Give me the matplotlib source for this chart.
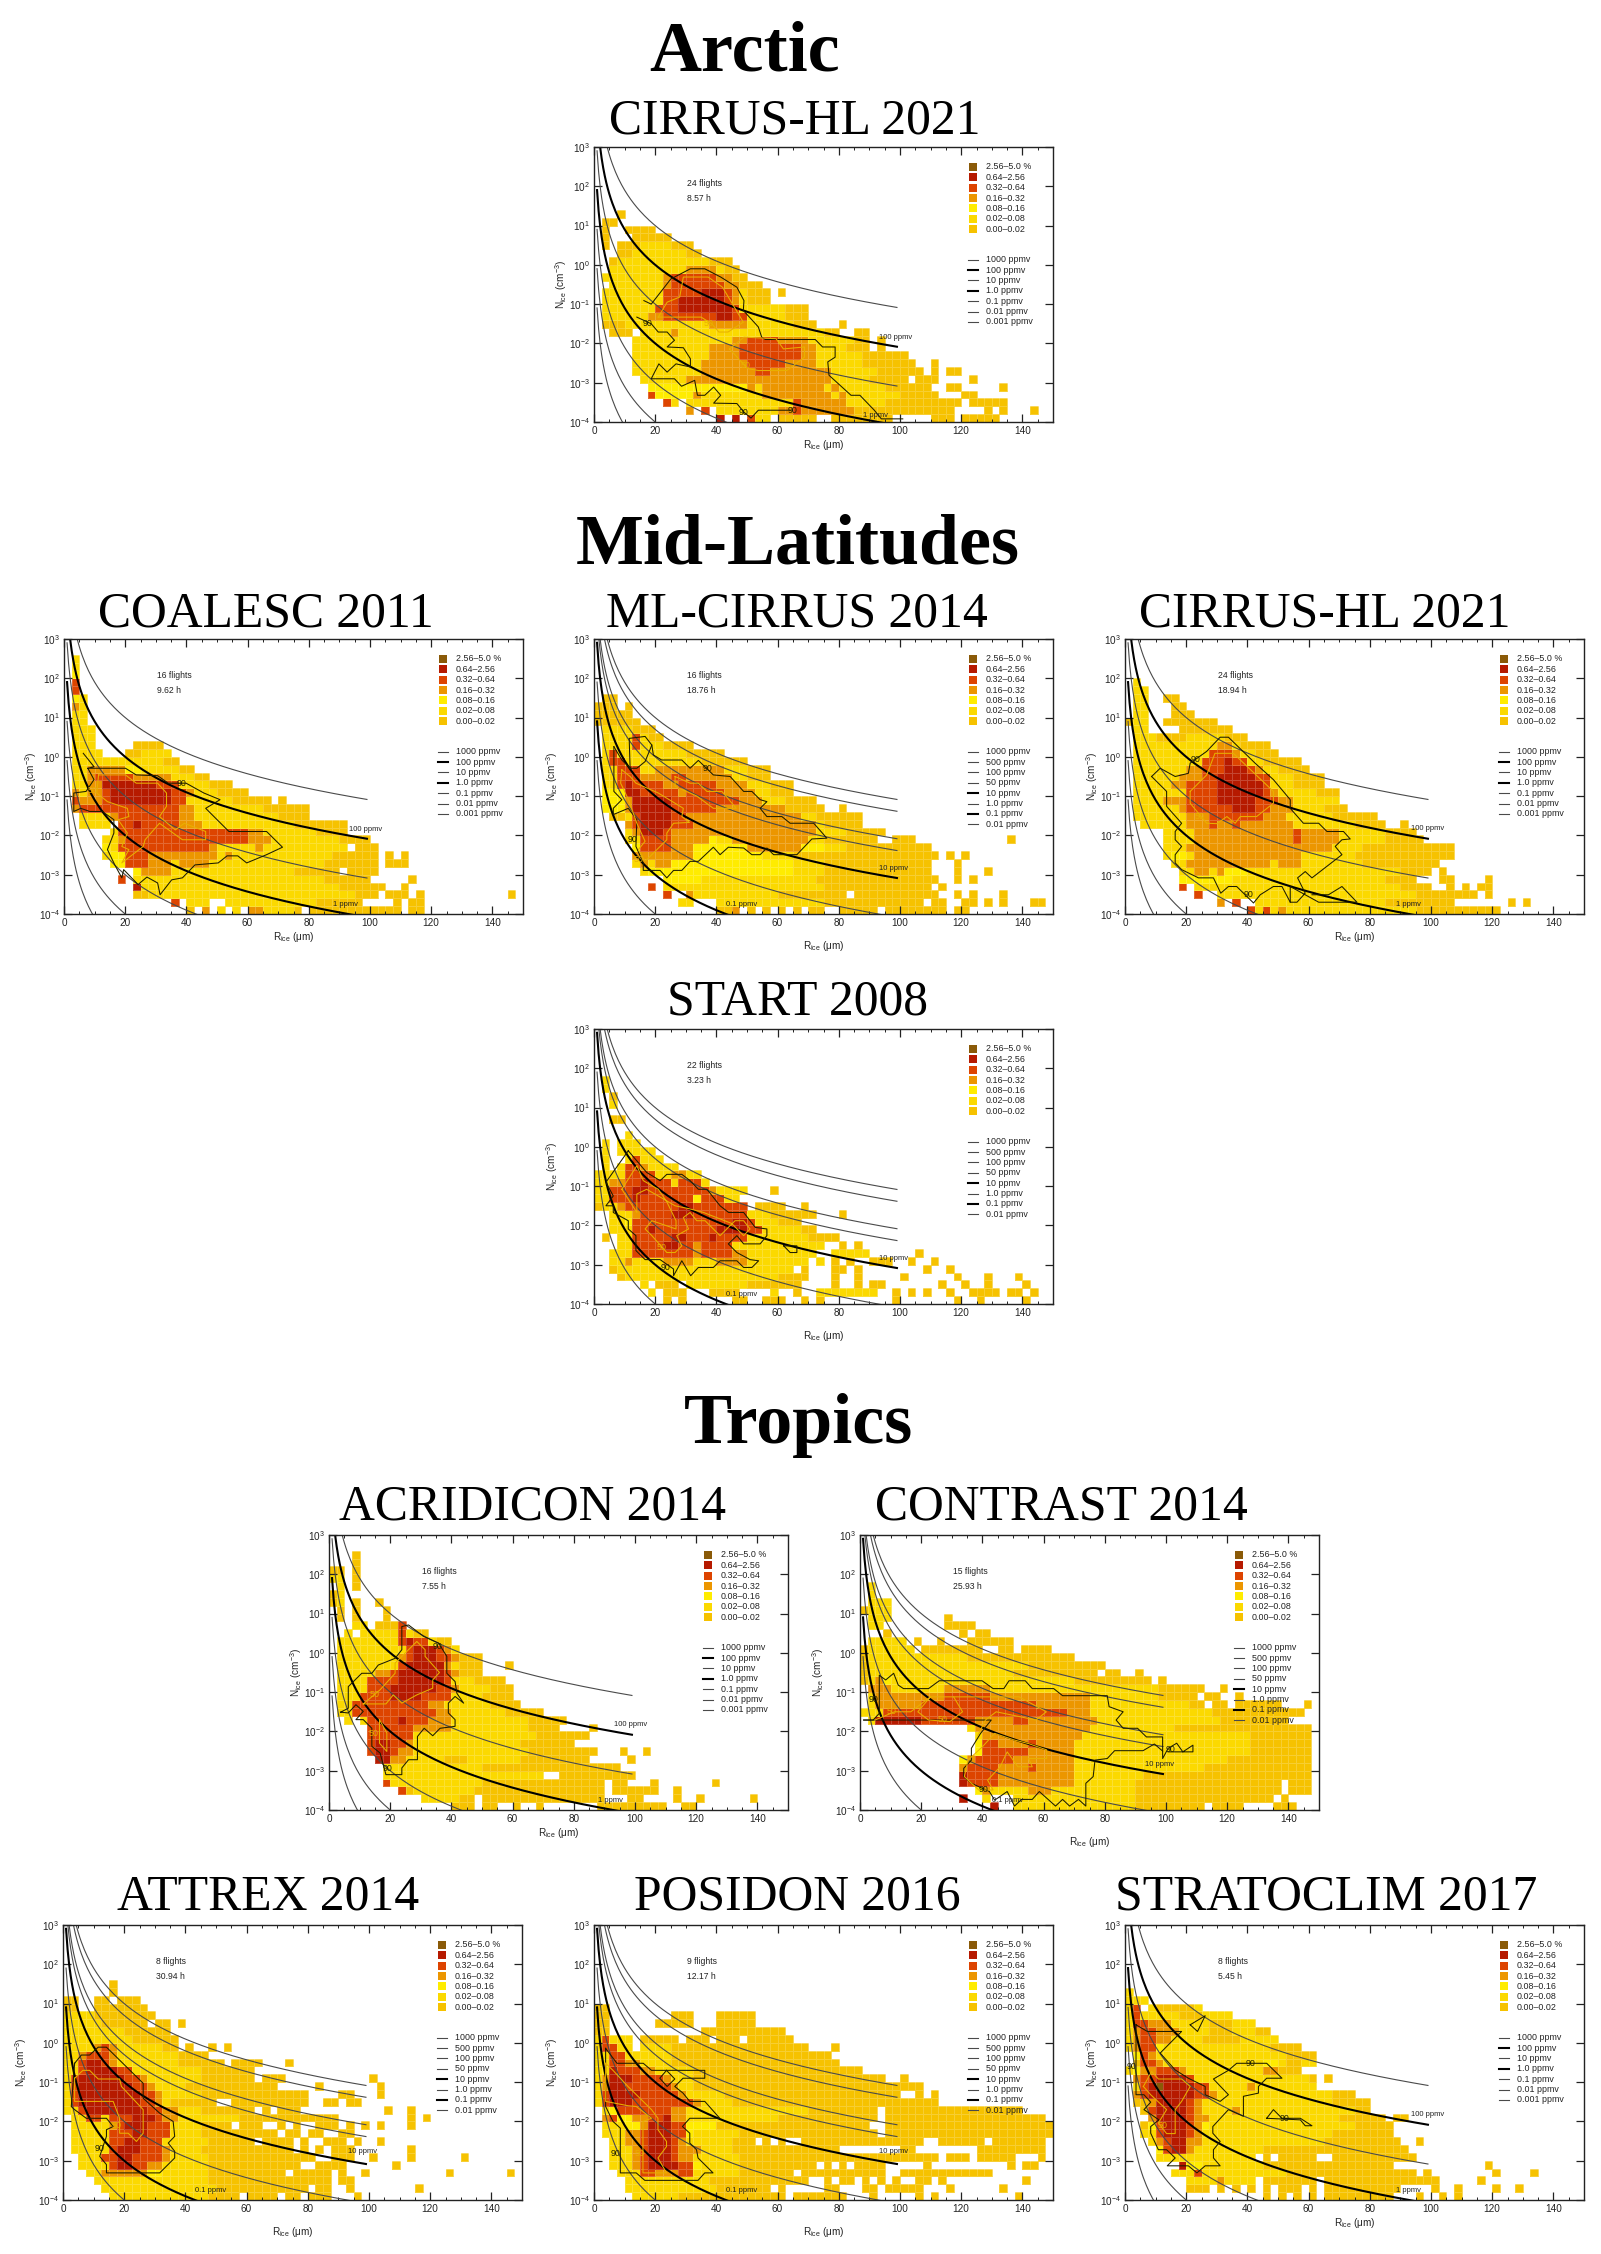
import numpy as np
import matplotlib
matplotlib.use('Agg')
import matplotlib.pyplot as plt
from matplotlib.colors import ListedColormap, BoundaryNorm
from matplotlib.patches import Rectangle

plt.rcParams['font.family'] = ['Liberation Sans', 'DejaVu Sans']
plt.rcParams['mathtext.default'] = 'regular'

W, H = 1601, 2254

# frequency classes, lowest first
CLASS_LABELS = ['0.00-0.02', '0.02-0.08', '0.08-0.16', '0.16-0.32', '0.32-0.64', '0.64-2.56', '2.56-5.0 %']
CLASS_COLORS = ['#F6C200', '#FBD900', '#FFEC00', '#EC9600', '#DD4400', '#B61A00', '#8A5A08']

PPMV_A = [('1000', 1000), ('100', 100), ('10', 10), ('1.0', 1), ('0.1', 0.1), ('0.01', 0.01), ('0.001', 0.001)]
PPMV_B = [('1000', 1000), ('500', 500), ('100', 100), ('50', 50), ('10', 10), ('1.0', 1), ('0.1', 0.1), ('0.01', 0.01)]

# cells: one string per row, bottom row first; x bins 2.5 um, y bins 0.2 decades
# "a-b:c" fills columns a to b with class c, later spans paint over earlier ones
arctic_cells = [
"16:6 18:6 20:5 21-22:2 24-28:1 31:1 32-38:1 44-46:1 48-52:1",
"12:4 14:5 16-46:2 24-33:4 26:5 34-46:1 51:1 53:1 57:1",
"9:5 10:2 12-47:2 26-32:4 26:5 38-47:1 49-53:1",
"7:5 8-44:2 8-12:3 13:4 22-30:4 32:4 40-44:1 48-49:1",
"7-43:2 7-19:3 20:4 22-29:4 31:4 38-43:1 46-47:1 53:1",
"6-40:2 12-30:4 36-40:1 42-44:1 49:1",
"5-42:2 14-30:4 21-22:5 37-42:1 44:1 46-47:1",
"5-41:2 14-28:4 20-24:5 35-41:1 44:1",
"5-40:2 15-28:4 19-26:5 35-40:1",
"5-35:2 15-28:4 19-26:5 33-35:1 37:1",
"5-35:2 18-27:4 20-23:5 34-35:1 37:1",
"2-4:1 6-31:2 10:4 30-31:1 34-35:1",
"1-28:2 1-3:1 15-19:4 26-28:1 32:1",
"1-27:2 7-8:4 9-19:5 16-17:6 25-27:1",
"1-27:2 8-10:5 11-17:6 18:5 25-27:1",
"1-22:2 9-10:5 11-16:6 17:5 18:4 20-22:1",
"1-22:2 9:4 9-13:5 14-16:6 17:5 18:4 20-22:1 24:1",
"2-21:2 9:4 10-16:5 17-18:4 19-21:1",
"1-19:2 9:4 10-15:5 16-17:4 18-19:1",
"2-18:2 12-15:4 17-18:1",
"2-17:2 2:1 15-17:1",
"3-13:2 3-4:1 12-13:1",
"1:1 3-12:2 3-5:1 10-12:1",
"1:1 5-9:1",
"1:1 4-7:1",
"1-2:1",
"3:1",
]
coalesc_cells = [
"16:1 18:4 20:2 22:2 24-25:4 26-29:2 30:1 32-43:1 45-46:1",
"14:5 16-18:2 21-38:2 33-38:1 43:1 45-46:1",
"9-37:2 9-10:1 38-40:1 42-44:1 46:1 58:1",
"9:6 10-41:2 36-41:1 44:1",
"7:5 9-39:2 34-39:1 45:1",
"9:3 10-13:4 14-35:2 30-35:1 37-40:1",
"6-40:2 6-7:3 8-10:5 11-13:4 15-18:4 34-40:1 42-44:1",
"5-40:2 6-7:3 8-10:5 11-19:4 21:4 35-40:1 42:1 44:1",
"5-36:2 5:3 7-18:5 19:4 25:4 38-40:1",
"5-39:2 7:4 8-23:5 24-26:4 36-39:1",
"6-36:2 7-23:5 24-25:4 33-36:1",
"2-5:2 7-35:2 7-14:5 9:6 15-17:4 30-35:1 36:1",
"2-31:2 6:4 7-14:5 15-16:4 28-31:1",
"1-31:2 1:4 2-14:5 15-16:4 26-31:1",
"1-26:2 1:5 2-4:4 5:5 6-13:6 14-15:5 22-26:1 28:1",
"1-23:2 1:4 3-4:4 5:5 6-13:6 14-15:5 16:4 20-23:1",
"1-21:2 3-4:4 5-11:6 12-14:5 19-21:1",
"1-18:2 3:4 4-8:5 9-13:4 17-18:1",
"1-16:2 3-7:4 8-9:3 15-16:1",
"1-14:2 13-14:1",
"1-4:2 8-13:2 8-9:1",
"1-3:2 9-12:1",
"1-3:2",
"1-3:2",
"1-2:2",
"1-2:2",
"1:4 2:2",
"1:3 2:2",
"1:5",
"1:5",
"1:3",
"1:2",
"1:2",
]
mlcirrus_cells = [
"16-17:1 18:4 20:1 22:1 24:1 26:1 28:1 29:1 32-36:1 38-44:1 45:1 47-48:1",
"11-12:2 16-42:2 30-42:1 44-45:1 48-49:1 51:1 53:1 57-58:1",
"9:5 12:4 13-32:2 24-32:1 34-44:1 47:1 49:1 53:1",
"7:5 9-36:2 30-43:1 45:1",
"9-44:2 9-13:3 29-44:1 47:1 49:1",
"6-43:2 7-25:3 30-43:1 47:1 51:1",
"5-43:2 6:4 8-9:4 10-25:3 30-43:1 47:1",
"5-44:2 5-12:4 13-21:3 26-44:1 46:1 48:1",
"5-43:2 5:3 6-9:5 10-12:4 13-19:3 20-26:4 27-29:3 33-43:1",
"4-36:2 6-9:5 10-14:4 15:3 18-27:4 30-36:1 39-41:1 54:1",
"4-37:2 5:4 6-8:6 9:5 10-28:4 33-37:1",
"4-34:2 4:4 5:5 6-9:6 10-12:5 13-28:4 30-34:1",
"2-34:2 2-3:1 5:4 5:5 6-9:6 10-11:5 12-26:4 29-34:1",
"1-29:2 1-3:3 4:4 5-9:6 10-15:5 16-24:4 25-29:1 32:1",
"1-28:2 1-3:3 4:4 5-9:6 10-18:5 19-21:4 25-28:1",
"1-25:2 1-3:3 4-5:6 6-10:5 11:4 12-16:5 17-20:4 23-25:1",
"1-25:2 3:5 4:6 5-8:5 9-10:4 11-15:5 16-19:4 23-25:1",
"1-22:2 3-5:5 6-9:4 10-11:5 12-17:4 20-22:1",
"1-22:2 3-5:5 8-16:4 20-22:1",
"1-19:2 2-3:5 14-19:1",
"1-16:2 2:5 12-16:1",
"1-12:2 5:5 9-12:1",
"1-8:2 5:5 7-8:1",
"1-7:2 5-7:1",
"0-5:1",
"0-4:1",
"0-2:1 4:1",
"1-2:1",
]
cirrus_mid_cells = [
"16:5 17-48:2 18:5 20:4 21-37:2 38-48:1",
"12:4 14:5 17-42:2 34-42:1 50:1 52:1",
"9:5 12-45:2 38-45:1 47:1",
"7:5 9-39:2 36-39:1 42:1 44:1 46-47:1",
"7-37:2 7-13:3 34-37:1 41-42:1 47:1",
"7-39:2 9-10:4 12:4 13-15:3 36-39:1 41:1",
"6-40:2 8-18:4 20-22:4 31-40:1",
"5-42:2 6-7:3 9-20:4 21-22:4 30-42:1 39:1",
"5-42:2 8-26:4 31-42:1",
"5-38:2 9-27:4 22:5 34-38:1",
"5-37:2 9-27:4 22:5 34-37:1",
"2-33:2 8-21:4 11:5 14:5 30-33:1 36:1",
"1-32:2 8-20:4 11-17:5 27-32:1",
"1-28:2 7:4 8-18:5 14-16:6 19-21:4 26-28:1",
"1-27:2 5-7:4 8-11:5 12-16:6 17-19:5 20-21:4",
"1-27:2 8-11:5 12-17:6 18:5 19:4 25-27:1",
"1-25:2 6-7:4 8-11:5 12-17:6 18:5 22-25:1",
"1-25:2 7-9:4 10-11:5 12-16:6 17-18:5 22-25:1",
"1-23:2 8-9:4 10-12:5 13-15:6 16:5 17:4 20-23:1",
"1-22:2 10-12:5 13:6 14-15:5 18-22:1",
"1-19:2 11-13:5 14:4 17-19:1",
"1-18:2 12-13:4 15-18:1",
"1-15:2 4-7:1 13-15:1",
"1-2:2 7-13:1",
"0:1 1-2:2 5-11:1",
"1-2:2 6-8:1",
"1-2:2 6-7:1",
"1-2:2 5-6:1",
"1:2 2:2",
"1:2",
]
start_cells = [
"9:1 11:1 18-19:1 22-24:1 27:1 29:1 39:1 47:1 50:1 56:1",
"7:2 9-11:1 15-18:1 23:2 26:1 29-36:2 39:1 41:1 43:1 46:1 49-52:1 54-55:1 57:1",
"6:2 8-10:1 12-25:2 20-25:1 26:1 31:1 34:1 36-37:1 45:1 48:1 51:1 56:1",
"3-27:2 3:1 24-27:1 31:1 34:1 40:1 47:1 51:1 55:1",
"2-25:2 2:1 27:1 31-32:1 34:1 43:1 46:1",
"2-27:2 4:4 9-12:4 16-19:4 29:2 31:1 33:1 36-38:1 41:1 44:1",
"2-28:2 5-12:5 13:4 14-17:5 18-19:4 31-35:2 42:1",
"3-29:2 5-12:5 9-10:6 13:4 14-17:5 32:1 34:1",
"1:1 3-31:2 5-19:5 10-11:6 15:6 28-31:1",
"2-28:2 5-21:5 7:6 16-19:6 27-28:1",
"2-26:2 4:3 5-20:5 18-19:6 24-26:1",
"2-28:2 5:4 6-19:5 10-12:6 23-28:1 32:1",
"0-19:2 0:1 3:4 4-19:5 11-12:6 21-23:1 24:1 27:1",
"0-18:2 2-12:5 5:6 13:3 14-16:5",
"0-19:2 2-14:5 5-6:6 15:4 23:1",
"0-14:2 2-3:4 4-9:5 6:6 10:2 11-13:5",
"0-13:2 4-7:5 10-11:4",
"1:2 3-10:2 4-5:5 6:4",
"1:2 4-8:2 5:5",
"1:2 3-7:2",
"1:2 3-5:2",
"4:2",
"",
"2-3:1",
"",
"2:2",
"2:1",
"1:2",
"1:2",
]
acridicon_cells = [
"16-18:1 20-21:1 24:1 27:1 35-43:1 46-47:1",
"12-16:2 17-18:1 20-35:1 39-40:1 45:1 48:1 55:1",
"9:5 10:1 11-19:2 19-35:1 37-42:1 45:1",
"7:5 8-19:2 20-35:1 37-38:1 42:1 50:1",
"7-22:2 23-27:2 30-39:1",
"7-19:2 20-37:1",
"6-33:2 6-7:6 8-9:4 15-17:1 25-33:1 39:1",
"5-34:2 5:5 6-7:6 8:5 9-10:4 26-34:1 38:1 41:1",
"5-31:2 5:5 6-7:6 8-9:5 10:4 25-31:1",
"5-33:2 5-10:5 27-33:1",
"5-28:2 5-10:5 11-15:4 26-29:1 34:1",
"2:2 4-30:2 5-12:5 9:6 13-15:4 26-30:1",
"1-27:2 3-13:5 14-15:4 23-27:1",
"1-24:2 3-12:5 13-14:4 21-24:1",
"1-23:2 4-15:5 8-11:6 20-23:1",
"1-23:2 5-7:5 8-13:6 14-15:5 16:4 21-23:1",
"1-22:2 5-8:5 9-14:6 15:5 19-22:1",
"1-19:2 6-7:4 8:5 9-14:6 15:5 16:4 17-19:1",
"1-19:2 9:5 10-14:6 15:4 17-19:1 23:1",
"1-19:2 9:4 10:5 11-13:6 14-15:5 16:4 17-19:1",
"1-16:2 10:5 11-13:6 14:5 15:4",
"1-15:2 9:5 10:6 11-12:5 14-15:1",
"2:2 4-12:2 9:5 11-12:1",
"3-4:2 6-9:1 9:5",
"1:1 3:1 7:1",
"1:1 3:1 7:1",
"0:1 1:2 3:1 6:1",
"0:1 1:2",
"1:2 3:1",
"0-1:2 3:1",
"0-1:1 3:1",
"3:1",
"3:1",
]
contrast_cells = [
"17:6 20-36:2 36-43:1 44:1 46-49:1 54-56:1",
"13:6 16:2 20-36:2 36-53:1 55:1",
"15-54:2 15:3 16:4 22-24:4 36-54:1 56-58:1",
"13:6 14-17:5 18-27:4 28-35:2 36-54:1 56-58:1",
"13:6 14-17:5 18-27:4 28-36:2 37-58:1",
"13:4 14-17:5 18-27:4 22:5 28-44:2 45-58:1",
"13:3 14:4 15-19:5 20-27:4 28-47:2 48-58:1",
"15:3 16-21:5 22-27:4 28-50:2 51-58:1",
"15:3 16-17:5 18-21:4 22:5 23-27:4 28-50:2 51-58:1",
"15:2 16-28:4 29-50:2 51-58:1",
"14:2 15-29:4 30-40:2 41-58:1",
"1:2 2-7:6 8-14:5 15-19:4 20-21:5 22-30:4 31-46:2 47-55:1",
"0-2:2 3-26:5 27-29:4 30-45:2 46-57:1",
"1:2 2-7:4 8-22:5 23-29:4 30-42:2 43-44:1 46-47:1 49-54:1 58:1",
"1:2 2-29:4 11-16:5 30-38:2 39-43:1 45-46:1 49:1",
"1-3:4 4-38:2 11-16:4 39-43:1 44:1 47:1",
"0:1 1-27:2 2:4 3:3 28-37:1 39:1",
"0:1 1-19:2 20-30:1 32-33:1 36:1",
"0:1 1-21:2 22-31:1",
"0:1 1-13:2 14-27:1",
"0:1 1-6:2 8-15:1 18-19:1 21-24:1",
"1-5:2 7:1 10:1 14-19:1",
"3:1 13:1 15-16:1",
"1-2:2 11-14:1",
"1-3:2 11:1",
"0:1 1-3:2",
"1-3:2",
"1:2",
"1:2",
]
attrex_cells = [
"6-18:2 19-22:1 24-27:1 29-30:1 32-34:1 38:1",
"5-19:2 20-31:1 33-34:1 37:1 46:1",
"4-18:2 19-34:1 36-37:1",
"3-18:2 5-10:4 11-12:3 19-28:1 30-34:1 36:1 39:1 50:1 58:1",
"2-18:2 6-10:5 7-8:6 11-12:4 19-30:1 33:1 34-36:1 43:1",
"2-18:2 5-12:5 7-8:6 13:4 19-32:1 35-37:1 40:1 45:1 52:1",
"1-17:2 6-12:5 7-9:6 13:4 18-29:1 31:1 33:1 35-37:1 45:1",
"1-18:2 6-12:5 8-9:6 19-24:1 26-28:1 29:1 31:1 34-36:1 38:1 41:1",
"1-17:2 6-13:5 9-10:6 18-26:1 27:1 29-30:1 32-33:1 36-37:1",
"1-17:2 6:4 7-13:5 8-10:6 18-21:1 23-25:1 28:1 30:1 33-35:1 37:1 39:1 41:1 45:1",
"1-6:2 3-4:5 6-12:5 9-11:6 13-14:4 15-22:2 23-35:1 45:1 47:1",
"0-17:2 2:5 3-10:6 11-12:5 13-14:4 18-24:1 26:1 28-30:1 42:1 45:1",
"0-13:2 1:5 2-9:6 10-11:5 12:4 14-19:1 22-31:1 34-35:1 37-38:1",
"0-17:2 1:5 2-9:6 10-11:5 12:4 18-28:1 29-31:1 36-37:1 41:1",
"0-15:2 1:5 2-8:6 9-10:5 11:4 16-27:1 33:1 41:1",
"0-17:2 1:5 2-7:6 8-9:5 10:4 18-24:1 26-28:1 40:1",
"0-17:2 2:5 3-6:6 7-8:5 18-23:1 24:1",
"0-14:2 2:5 3-4:6 5:5 6:4 15-20:1 22-24:1 25:1 29:1",
"0-14:2 2:4 3-5:5 6:4 15-18:1",
"0-12:2 4:4 5:5 6:4 13-14:1 16:1 19:1 21:1",
"0-8:2 9-14:1",
"0-7:2 8-13:1",
"0-4:2 5-10:1 12-13:1 15:1",
"0-3:2 4-11:1",
"0-1:1 4-10:1",
"0-1:1 4-5:1 7-9:1",
"6:1",
"6:1",
]
posidon_cells = [
"5-10:2 11-24:1 26-32:1 36:1 42:1 44:1 55:1",
"4-15:2 16-22:1 24:1 30-31:1 35-36:1 38-41:1 42:1 46:1 53:1",
"4-14:2 15-27:1 30:1 32-33:1 35:1 37:1 39:1 42-43:1 45:1 56:1",
"3-18:2 6-12:5 8-10:4 19-25:1 27-37:1 40-43:1 44-51:1",
"2-18:2 5:4 6:5 7-10:6 11-12:5 13:3 19-28:1 30:1 32:1 34-37:1 43:1 54:1 56-57:1",
"2-18:2 5:4 6:5 7-9:6 10:5 11-12:4 19-44:1 46-48:1 50-54:1 58:1",
"2-17:2 5:4 6:5 7-9:6 10:5 11-13:4 18-31:1 40-41:1 50-58:1",
"2-17:2 4-5:4 6:5 7-9:6 10:5 11:4 18-20:1 22:1 24:1 27-42:1 45-50:1 52-58:1",
"1-18:2 4-5:4 6:5 7-9:6 10-11:5 12:3 19-36:1 38-59:1",
"1-3:2 4-5:3 6:4 7-9:6 10-11:5 12-15:3 16-35:1 38-59:1",
"1:4 2:5 3-4:3 5-6:4 7-8:5 9:6 10-11:4 12-23:2 24-36:1 38-55:1 56-58:1",
"1:2 2:3 3:5 4-9:5 10-11:4 12-27:2 28-36:1 38-55:1",
"0:2 1:5 2-4:6 5-12:5 13:4 14-17:2 18-44:1",
"0:2 1:5 2-5:6 6-10:5 11:4 12-16:2 17-39:1 42:1 44:1",
"0:2 1:4 2-3:6 4-9:5 10:4 11-12:2 13-39:1 40-41:1 42:1",
"0:2 1:4 2-4:6 5-8:5 9:4 10-12:2 13-37:1 40:1",
"0:2 1:2 2:6 3-5:5 6-7:4 8-12:2 13-34:1",
"0-1:2 2-3:5 4-5:4 6-9:2 10-31:1",
"0-1:2 2-3:5 4-9:2 10-30:1",
"0:2 1-2:5 3-4:2 6-9:2 10-27:1 31:1",
"0:2 1:5 2-4:2 6-10:1 12-14:1 16-18:1 20-25:1",
"0-1:1 14-21:1 22-24:1",
"0-1:1 8-12:1 16-20:1",
"0-1:1 10-12:1 16-20:1",
"0-1:1",
]
stratoclim_cells = [
"18:1 20:1 22:1 24:1 26-34:1 38:1 41:1 43:1",
"8-10:1 12:1 14:1 16:1 18:1 20-22:1 24:1 26-35:1 40:1 43:1 48:1 51:1",
"8-16:2 12:4 18-24:1 26-40:1 46:1",
"6-20:2 9:5 21-37:1 39:1 48:1 53:1",
"7:6 8-17:2 8-9:3 18-34:1 47:1",
"4-16:2 18:1 20-24:1 27-37:1",
"4-17:2 4:3 5:5 6-7:6 8:4 18-36:1",
"3-25:2 4:4 5:5 6-7:6 8-9:4 26-35:1 38:1",
"2-26:2 4:5 5-7:6 8:5 9:4 27-34:1",
"2-29:2 2:1 3:3 4:5 5-7:6 8:5 9:4 10:3 30-34:1",
"3-27:2 3:4 4-7:6 8:5 9-10:4 28-33:1 35-36:1",
"2:1 3-29:2 3:5 4-7:6 8:5 9:4 14:4 30-31:1",
"1-2:1 3-26:2 3:4 4-7:6 8:5 9:4 27-31:1",
"1-26:2 1:4 2:5 3-8:6 9-10:5 11:4 27-29:1",
"1-24:2 2:5 3-8:6 4:7 9-10:5 16:4",
"1-23:2 1:4 2-3:5 4-7:6 8:5 24:1 26:1",
"0:2 1:3 2-3:4 4-6:5 7:4 8-22:2 18-19:4 20-22:1",
"1:1 2-3:5 4:4 5-24:2 18-19:3 21-22:1",
"1-24:2 1:3 2:5 3:4 21-24:1",
"0-22:2 1:4 2-3:5 4:3 19-22:1",
"0-19:2 1:4 2-3:5 4-5:4 10-14:1",
"0-18:2 1:4 2-3:5 4-6:4 11-13:1 17-18:1",
"0-16:2 1-2:5 3-5:4 11-13:1",
"0-13:2 1:5 7-9:1",
"0-1:2 1:5 3-9:2 4-8:1",
"0-2:2",
"0:2",
]

# 90 % (black) and 50 % (yellow) outlines, R in um and log10 N
arctic_90 = [
    ([14, 18.7, 21, 23.9, 26.3, 23.9, 29.2, 31.5, 31.5, 26.8, 23.9, 21.2, 18.7, 26.3, 28.6, 32.9, 33.8, 36.2, 39.1, 41.4, 39.1, 46.7, 49, 51.3, 53.7, 64.2],
     [-1.33, -1.5, -1.71, -1.71, -1.92, -2.09, -2.11, -2.39, -2.6, -2.52, -2.73, -2.52, -2.9, -2.9, -3.09, -2.94, -3.32, -3.32, -3.11, -3.32, -3.52, -3.53, -3.75, -3.9, -3.7, -3.7]),
    ([16.3, 18.7, 25.1, 31.5, 36.2, 41.4, 46.7, 49, 48.8, 53.7, 54.8, 56, 72.3, 74.7, 78.8, 78.8, 76.4, 76.8, 84, 86.9, 91.6, 93.9, 100.9],
     [-0.91, -1, -0.36, -0.1, -0.1, -0.31, -0.57, -0.91, -1.16, -1.58, -1.84, -1.9, -1.9, -2.09, -2.09, -2.35, -2.47, -2.81, -3.32, -3.32, -3.7, -3.92, -3.92]),
]
arctic_50 = [
    ([21, 23.9, 28, 29.2, 37.3, 42, 48.8, 43.8, 40.8, 38.5, 35, 21],
     [-1.33, -0.95, -0.82, -0.31, -0.31, -0.57, -1.46, -1.71, -1.71, -1.5, -1.33, -1.33]),
    ([44.3, 49, 59.5, 61.9, 68.8, 68.8, 63, 53.7, 50.2, 44.3],
     [-2.14, -1.84, -1.88, -2.14, -2.09, -2.35, -2.69, -2.69, -2.64, -2.14]),
]
coalesc_90 = [
    ([6.3, 9.8, 7.8, 20.1, 23.6, 30.6, 34.1, 39.9, 45.7, 51, 46.3, 53.9, 66.2, 71.4, 66.2, 59.7, 56.8, 53.3, 50.4, 42.8, 38.7, 35.2, 31.4, 30.6, 27.1, 24.2, 19.5, 18.9, 16.6, 14.2, 16.3, 16.3, 12.5, 8.4, 5.5, 3.2, 3.2, 7.2, 9.8, 7.8],
     [0.09, -0.25, -0.29, -0.29, -0.46, -0.48, -0.67, -0.67, -0.92, -1.09, -1.31, -1.9, -1.9, -2.3, -2.49, -2.7, -2.52, -2.52, -2.7, -2.75, -3.08, -3.13, -3.51, -3.21, -3.06, -3.25, -2.87, -3.08, -2.75, -2.36, -1.94, -1.6, -1.39, -1.39, -1.31, -1.39, -0.92, -0.88, -0.58, -0.29]),
]
coalesc_50 = [
    ([11.3, 20.1, 23.6, 30.6, 33.5, 33.5, 31.2, 36.4, 39.3, 46.3, 46.3, 38.7, 31.2, 26.5, 25.9, 18.9, 21.2, 18.9, 20.7, 17.7, 21.2, 20.7, 14.2, 10.7, 11.3],
     [-0.46, -0.46, -0.67, -0.67, -0.92, -1.26, -1.52, -1.86, -1.69, -1.9, -2.11, -2.11, -1.69, -2.11, -2.28, -2.7, -2.36, -2.28, -1.94, -1.6, -1.52, -1.31, -1.14, -0.92, -0.46]),
]
mlcirrus_90 = [
    ([6.5, 9.1, 11.8, 14, 16.7, 18.9, 16.7, 11.5, 11.8],
     [0.26, -0.08, -0.29, -0.29, -0.12, 0.3, 0.52, 0.47, -0.29]),
    ([18.9, 19.4, 22.1, 28.7, 31.4, 34.1, 39, 44.5, 48.9, 51.6, 54.3, 56.5, 54.3, 56.5, 61.4, 64.1, 71.8, 76.1, 71.2, 66.3, 58.7, 56.5, 54.3, 51.6, 48.9, 43.9, 41.2, 39, 34.1, 31.4, 28.7, 26, 23.8, 21.6, 16.1, 16.1, 13.7, 14, 11.2, 6.3, 6.3, 9.1, 6.5, 6.5],
     [0.3, 0.05, -0.08, -0.08, -0.29, -0.09, -0.46, -0.5, -0.88, -0.88, -1.09, -1.14, -1.31, -1.52, -1.52, -1.69, -1.69, -2.07, -2.09, -2.49, -2.49, -2.32, -2.49, -2.49, -2.32, -2.3, -2.49, -2.3, -2.66, -2.66, -2.89, -2.89, -3.08, -2.89, -2.89, -2.7, -2.28, -1.6, -1.31, -1.47, -1.31, -1.09, -0.88, 0.26]),
]
mlcirrus_50 = [
    ([9.1, 11.8, 13.7, 21, 29.2, 28.7, 31.2, 26, 23.8, 23.8, 16.7, 14.5, 16.7, 14, 11.3, 8.7, 9.1],
     [-0.33, -0.5, -0.67, -0.92, -1.31, -1.52, -1.67, -1.69, -1.94, -2.11, -2.66, -2.36, -2.15, -1.69, -1.09, -0.67, -0.33]),
    ([26.5, 31.4, 34.1, 36.9, 41.8, 46.5, 39, 33.6, 26.5, 26.5],
     [-0.5, -0.67, -0.67, -0.88, -0.88, -1.31, -1.31, -1, -0.75, -0.5]),
]
cirrus_mid_90 = [
    ([8.7, 11.5, 16.4, 20.7, 21.3, 26.7, 31.1, 33.8, 42.5, 48.5, 54, 54, 58.3, 63.3, 66, 71.4, 73.6, 70.9, 68.7, 70.9, 61.1, 58.9, 56.4, 58.9, 56.2, 54, 54, 63.3, 75.8, 70.9, 66.5, 61.1],
     [-0.5, -0.29, -0.5, -0.42, -0.16, 0.14, 0.5, 0.5, -0.16, -0.58, -1.09, -1.31, -1.69, -1.69, -1.9, -1.9, -2.09, -2.11, -2.28, -2.49, -3.08, -2.92, -3.08, -3.47, -3.7, -3.7, -3.3, -3.7, -3.7, -3.3, -3.51, -3.51]),
    ([8.7, 13.6, 13.6, 18.5, 16.4, 16.4, 18.5, 16.4, 16.4, 18.5, 24, 28.9, 31.3, 33.8, 36.5, 42, 44.2, 48.5, 51.3, 54],
     [-0.5, -0.88, -1.26, -1.69, -1.9, -2.11, -2.28, -2.49, -2.7, -2.87, -3.08, -3.08, -3.47, -3.3, -3.3, -3.72, -3.51, -3.3, -3.3, -3.7]),
]
cirrus_mid_50 = [
    ([21.3, 26.7, 29.4, 35.4, 48.5, 48.5, 43, 37.7, 36, 33.3, 30, 26.7, 21.3, 21.3],
     [-0.88, -0.46, 0.09, 0.09, -0.88, -1.18, -1.52, -1.52, -1.69, -1.52, -1.7, -1.69, -1.18, -0.88]),
]
start_90 = [
    ([11.2, 3.9, 6.3, 3.9, 6.3, 6.3, 11.2, 11.2, 13.7, 13.7, 16.7, 21.6, 26, 26, 28.7, 31.6, 34.1, 39, 41.2, 46.7, 48.9, 51.6, 53.8, 51, 46.7, 43.9, 46.7, 48.9, 54.3, 56.5, 56.5, 52.7, 48.9, 44, 41.2, 36.9, 34.1, 31.4, 28.7, 23.8, 21.6, 17.2, 11.2],
     [-0.1, -0.9, -1.25, -1.5, -1.5, -1.67, -1.88, -2.09, -2.26, -2.64, -2.87, -2.87, -3.11, -3.28, -2.9, -3.28, -3.07, -3.07, -2.9, -2.9, -3.07, -3.07, -2.9, -2.87, -2.69, -2.47, -2.26, -2.47, -2.47, -2.26, -2.09, -2.05, -1.67, -1.67, -1.5, -1.08, -1.08, -0.86, -0.7, -0.7, -0.86, -0.65, -0.1]),
    ([62, 66.3, 66.3, 64.1, 62], [-2.52, -2.52, -2.69, -2.69, -2.52]),
]
start_50 = [
    ([9.1, 14, 16.1, 21, 23.8, 26.8, 26.8, 18.9, 16.7, 18.9, 23.8, 26.5, 28.7, 27, 30.9, 29.2, 31.4, 33.6, 36.3, 41.2, 46.1, 48.9, 51, 48.9, 45, 35.8, 31.4, 26.5, 21, 17.2, 14, 14, 9.1],
     [-1.08, -0.48, -0.86, -1.08, -1.4, -1.88, -2.09, -1.88, -2.09, -2.26, -2.69, -2.69, -2.52, -2.26, -2.09, -1.8, -1.67, -1.88, -1.88, -2.26, -1.88, -1.88, -2.09, -2.26, -1.95, -1.67, -1.58, -1.5, -1.25, -1.08, -1.2, -1.67, -1.08]),
]
acridicon_90 = [
    ([3.8, 6.3, 6.3, 10.7, 14, 16.1, 21.6, 23.8, 23.8, 26, 30.9, 35.8, 38.5, 38.5, 41.2, 41.8, 44, 41.2, 39, 39, 41.2, 41.2, 36.3, 33.9, 31.1, 28.9, 28.9, 26, 23.8, 23.8, 18.6, 16.7, 14, 14, 11.2, 8.8, 11.2, 8.8, 6.3, 3.8],
     [-1.51, -1.41, -0.86, -0.52, -0.52, -0.31, -0.14, 0.08, 0.67, 0.71, 0.42, 0.25, -0.09, -0.52, -0.73, -1.03, -1.28, -1.11, -1.28, -1.53, -1.7, -1.87, -1.92, -2.11, -1.92, -2.13, -2.72, -2.72, -2.93, -3.1, -3.1, -2.55, -2.38, -1.92, -1.7, -1.7, -1.49, -1.32, -1.53, -1.51]),
]
acridicon_50 = [
    ([11.2, 16.7, 21.6, 21.6, 28.7, 31.4, 31.4, 36.1, 33.9, 33.9, 28.7, 23.8, 21, 18.6, 11.2],
     [-1.3, -0.94, -0.52, -0.26, 0.29, 0.08, -0.09, -0.5, -0.69, -0.9, -1.07, -1.28, -1.07, -1.3, -1.3]),
    ([16.5, 18.9, 18.9, 16.5, 16.5], [-1.7, -2.04, -2.51, -2.3, -1.7]),
]
contrast_90 = [
    ([1.2, 4.3, 6.3, 6.3, 8.4, 11, 12.5, 14.2, 22.4, 25.9, 39.9, 43.5, 47, 48.7, 54, 56.3, 63.3, 66.2, 80.8, 81.4, 86, 83.7, 86, 90.7, 93.6, 98.9, 98.9, 100.7, 103.5, 105.5, 108.8, 108.8, 100.7],
     [-1.71, -1.71, -1.54, -0.57, -0.69, -0.52, -0.82, -0.91, -0.91, -0.71, -0.71, -0.91, -0.91, -0.71, -0.71, -0.91, -0.91, -1.09, -1.09, -1.37, -1.5, -1.71, -1.92, -1.92, -2.14, -2.14, -2.69, -2.43, -2.3, -2.52, -2.35, -2.52, -2.52]),
    ([98.9, 96.2, 92.5, 83.2, 80.8, 76.8, 76.2, 73.8, 73.8, 71.4, 68.5, 66.2, 63.9, 58.6, 56.3, 52.8, 50.5, 48.1, 44, 42.3, 36.4, 33.9, 33.9, 36.4, 36.4, 39.4, 42.9, 1.2],
     [-2.5, -2.32, -2.49, -2.49, -2.69, -2.73, -3.15, -3.32, -3.9, -3.73, -3.9, -3.73, -3.9, -3.53, -3.73, -3.73, -3.9, -3.53, -3.75, -3.53, -3.32, -3.15, -2.94, -2.73, -2.43, -2.05, -1.71, -1.71]),
]
contrast_50 = [
    ([4.9, 11.3, 16.6, 23, 30.6, 33.5, 29.4, 22.4, 18.9, 23], [-1.71, -1.5, -1.5, -1.12, -1.12, -1.5, -1.75, -1.71, -1.5, -1.12]),
    ([30.6, 52, 60.9, 57.5, 44.5, 41, 38.5], [-1.12, -1.12, -1.5, -1.71, -1.5, -1.71, -2.1]),
    ([35.3, 40, 44, 50.5, 55.1, 61, 61, 55.1, 56.3, 51.6, 48.1, 45.8, 41.7, 43.5, 38.8, 34.1, 35.3],
     [-2.73, -2.39, -2.05, -2.22, -2.31, -2.47, -2.69, -2.69, -2.9, -2.9, -2.52, -2.9, -3.24, -3.49, -3.49, -3.15, -2.73]),
]
attrex_90 = [
    ([3.8, 6, 8.7, 11.5, 14.2, 26.2, 26.2, 31.6, 36, 36.5, 34.4, 36.5, 36.5, 31.6, 14.2, 14.2, 12, 14.2, 14.2, 16.4, 14.2, 7.6, 3.8, 2.7, 3.8],
     [-0.52, -0.31, -0.31, -0.11, -0.11, -1.03, -1.41, -1.79, -2, -2.38, -2.55, -2.76, -2.93, -3.31, -3.31, -3.1, -2.89, -2.38, -2.21, -2.13, -1.92, -1.92, -1.7, -1.62, -0.52]),
]
attrex_50 = [
    ([3.8, 6.5, 8.7, 11.5, 18.5, 19.1, 26.2, 26.2, 24, 21.3, 18.5, 18.5, 16.4, 3.8, 3.8],
     [-0.9, -0.7, -0.7, -0.92, -0.92, -1.11, -1.7, -2.3, -2.51, -2.3, -2.3, -1.92, -1.49, -1.49, -0.9]),
]
posidon_90 = [
    ([3.8, 7.5, 16.1, 18.8, 36.2, 36.2, 29.1, 26.4, 29.1, 31.3, 36.2, 41.1, 31.3, 28.9, 31.3, 31.3, 33.5, 34, 38.9, 36.2, 34, 16.6, 13.8, 8.6, 8.6, 6.2, 3.8, 3.8],
     [-0.14, -0.52, -0.52, -0.7, -0.7, -0.9, -0.9, -1.11, -1.28, -1.49, -1.49, -1.92, -1.92, -2.13, -2.3, -2.55, -2.72, -2.93, -3.31, -3.31, -3.5, -3.5, -3.31, -3.31, -2.17, -2, -1.62, -0.14]),
    ([23.7, 26.4, 23.9, 21.5, 23.7], [-0.7, -0.92, -1.11, -0.9, -0.7]),
]
posidon_50 = [
    ([3.8, 6.2, 11.1, 18.8, 20.9, 20.9, 23.7, 23.7, 20.9, 23.7, 16, 16, 18.8, 13.8, 11.1, 3.8, 3.8],
     [-0.52, -0.7, -1.11, -1.7, -1.92, -2.21, -2.51, -2.64, -2.93, -3.31, -3.31, -2, -1.92, -1.62, -1.6, -1.49, -0.52]),
]
stratoclim_90 = [
    ([3.6, 7.3, 18.5, 11.5, 16.4, 20.7, 26.2, 26.2, 31.1, 33.8, 28.9, 33.8, 36.5, 46.3, 51.3, 46.3, 43.6, 43.6, 38.7, 38.7, 33.8, 28.7, 28.7, 31.1, 28.9, 28.9, 31.1, 26.2, 23.5, 20.7, 13.8, 16.4, 13.6, 10.9, 8.4, 8.4, 11.1, 6.2, 8.4, 6.2, 3.6, 3.6],
     [0.46, 0.29, 0.29, -0.26, -0.69, -0.9, -1.11, -1.32, -1.49, -1.32, -0.92, -0.7, -0.52, -0.52, -0.9, -0.9, -1.11, -1.28, -1.36, -1.87, -1.7, -2.13, -2.3, -2.51, -2.72, -2.93, -3.13, -3.13, -3.31, -3.13, -3.13, -2.93, -2.72, -2.72, -2.3, -2.13, -1.96, -1.7, -1.51, -1.32, -1.32, 0.46]),
    ([46.3, 48.5, 51.3, 57.3, 61.1, 58.9, 57.3, 46.3], [-1.92, -1.7, -1.92, -1.92, -2.11, -2.11, -1.96, -1.92]),
    ([21.3, 26.2, 23.7, 21.3], [0.46, 0.69, 0.29, 0.46]),
]
stratoclim_50 = [
    ([6, 8.7, 10.9, 18.5, 21.3, 18.5, 16.4, 16.4, 13.6, 10.9, 13.6, 8.4, 6],
     [-1.11, -0.73, -0.92, -0.92, -1.11, -1.49, -1.7, -2.31, -2.31, -2.04, -1.7, -1.32, -1.11]),
]

# title, title centre x, title y, axes left, axes top, cells, 90 lines, 50 lines, flights, hours, ppmv set,
# labels of the isolines, spots of the 90 and 50 labels
PANELS = [
    ('CIRRUS-HL 2021', 795, 121, 594, 147, arctic_cells, arctic_90, arctic_50, '24 flights', '8.57 h', 'A',
     [(93, -1.85, '100 ppmv'), (88, -3.84, '1 ppmv')], [(17.5, -1.5), (65, -3.7), (49, -3.75)], [(37.5, -1.5), (49.5, -2.55)]),
    ('COALESC 2011', 266, 614, 64, 639, coalesc_cells, coalesc_90, coalesc_50, '16 flights', '9.62 h', 'A',
     [(93, -1.85, '100 ppmv'), (88, -3.76, '1 ppmv')], [(38.5, -0.68)], [(9.5, -0.85)]),
    ('ML-CIRRUS 2014', 797, 614, 594, 639, mlcirrus_cells, mlcirrus_90, mlcirrus_50, '16 flights', '18.76 h', 'B',
     [(93, -2.83, '10 ppmv'), (43, -3.76, '0.1 ppmv')], [(37, -0.29), (12.5, -2.1)], [(14.5, -2.6)]),
    ('CIRRUS-HL 2021', 1325, 614, 1125, 639, cirrus_mid_cells, cirrus_mid_90, cirrus_mid_50, '24 flights', '18.94 h', 'A',
     [(93.5, -1.83, '100 ppmv'), (88.6, -3.76, '1 ppmv')], [(23, -0.08), (40.5, -3.5)], [(24.5, -1.53)]),
    ('START 2008', 797, 1002, 594, 1029, start_cells, start_90, start_50, '22 flights', '3.23 h', 'B',
     [(93, -2.83, '10 ppmv'), (43, -3.76, '0.1 ppmv')], [(23.5, -3.07)], [(22, -2.55)]),
    ('ACRIDICON 2014', 532, 1507, 329, 1535, acridicon_cells, acridicon_90, acridicon_50, '16 flights', '7.55 h', 'A',
     [(93, -1.83, '100 ppmv'), (88, -3.76, '1 ppmv')], [(35.5, 0.17), (19, -2.95)], [(15, -1.07), (14.7, -2.05)]),
    ('CONTRAST 2014', 1061, 1507, 860, 1535, contrast_cells, contrast_90, contrast_50, '15 flights', '25.93 h', 'B',
     [(93, -2.83, '10 ppmv'), (43, -3.76, '0.1 ppmv')], [(40.5, -3.49), (101.5, -2.47), (4.5, -1.2)], [(10.5, -1.5), (27, -1.7)]),
    ('ATTREX 2014', 268, 1897, 63, 1925, attrex_cells, attrex_90, attrex_50, '8 flights', '30.94 h', 'B',
     [(93, -2.76, '10 ppmv'), (43, -3.76, '0.1 ppmv')], [(12, -2.7)], [(17.5, -2.1)]),
    ('POSIDON 2016', 797, 1897, 594, 1925, posidon_cells, posidon_90, posidon_50, '9 flights', '12.17 h', 'B',
     [(93, -2.76, '10 ppmv'), (43, -3.76, '0.1 ppmv')], [(7.2, -2.82)], [(14.8, -2.82)]),
    ('STRATOCLIM 2017', 1326, 1897, 1125, 1925, stratoclim_cells, stratoclim_90, stratoclim_50, '8 flights', '5.45 h', 'A',
     [(93.5, -1.83, '100 ppmv'), (88.6, -3.76, '1 ppmv')], [(41, -0.52), (52, -1.92), (2.3, -0.6)], [(12.2, -2.1)]),
]

HEADINGS = [('Arctic', 745, 53), ('Mid-Latitudes', 798, 546), ('Tropics', 798, 1425)]

cmap = ListedColormap(CLASS_COLORS)
norm = BoundaryNorm(np.arange(0.5, 8.5), cmap.N)
x_edges = np.arange(0, 150.1, 2.5)
y_edges = 10.0 ** np.linspace(-4, 3, 36)


def cells_to_grid(rows):
    grid = np.full((35, 60), np.nan)
    for k, row in enumerate(rows):
        for span in row.split():
            cols, level = span.split(':')
            a, _, b = cols.partition('-')
            grid[k, int(a):int(b or a) + 1] = int(level)
    return np.ma.masked_invalid(grid)


def draw_panel(fig, panel):
    title, tx, ty, left, top, cells, lines90, lines50, flights, hours, ppmv_set, iso_labels, spots90, spots50 = panel
    ax = fig.add_axes([left / W, 1 - (top + 275) / H, 459 / W, 275 / H])
    ax.pcolormesh(x_edges, y_edges, cells_to_grid(cells), cmap=cmap, norm=norm,
                  edgecolors=(1, 1, 1, 0.2), linewidth=0.4, zorder=1)
    ax.set_xlim(0, 150)
    ax.set_yscale('log')
    ax.set_ylim(1e-4, 1e3)

    levels = PPMV_A if ppmv_set == 'A' else PPMV_B
    thick = ('100', '1.0') if ppmv_set == 'A' else ('10', '0.1')
    r = np.arange(1, 99.01, 0.5)
    for name, ppmv in levels:
        bold = name in thick
        # N ~ IWC / R^3 isolines
        ax.plot(r, ppmv * 80 / r ** 3, color='black' if bold else '#4a4a4a', lw=1.5 if bold else 0.8, zorder=3)

    for xs, ys in lines90:
        ax.plot(xs, 10.0 ** np.array(ys), color='#1c1c00', lw=0.75, zorder=4)
    for xs, ys in lines50:
        ax.plot(xs, 10.0 ** np.array(ys), color='#E8B000', lw=0.75, zorder=4)
    for x, y in spots90:
        ax.text(x, 10.0 ** y, '90', fontsize=6.4, color='#222200', ha='center', va='center', zorder=5)
    for x, y in spots50:
        ax.text(x, 10.0 ** y, '50', fontsize=6.4, color='#E8B000', ha='center', va='center', zorder=5)
    for x, y, s in iso_labels:
        ax.text(x, 10.0 ** y, s, fontsize=5.5, color='#222222', va='center', zorder=5)

    ax.text(0.202, 1 - 0.132, flights, transform=ax.transAxes, fontsize=6.2, color='#222222', va='center', zorder=5)
    ax.text(0.202, 1 - 0.189, hours, transform=ax.transAxes, fontsize=6.2, color='#222222', va='center', zorder=5)

    # legend of the classes, highest first
    for i, (lab, col) in enumerate(zip(CLASS_LABELS[::-1], CLASS_COLORS[::-1])):
        y = 1 - 0.0727 - i * 0.0377
        ax.add_patch(Rectangle((0.8165, y - 0.0145), 0.0174, 0.029, transform=ax.transAxes, color=col, lw=0, zorder=5))
        ax.text(0.854, y, lab.replace('-', '\u2013'), transform=ax.transAxes, fontsize=6.4, color='#222222', va='center', zorder=6)
    for i, (name, ppmv) in enumerate(levels):
        y = 1 - 0.41 - i * 0.0377
        bold = name in thick
        ax.plot([0.815, 0.836], [y, y], transform=ax.transAxes, color='black' if bold else '#4a4a4a', lw=1.5 if bold else 0.8, zorder=5)
        ax.text(0.854, y, name + ' ppmv', transform=ax.transAxes, fontsize=6.4, color='#222222', va='center', zorder=6)

    ax.set_xticks(np.arange(0, 150, 20))
    ax.set_xticks(np.arange(0, 151, 5), minor=True)
    ax.set_yticks(10.0 ** np.arange(-4, 4))
    ax.set_yticklabels(['10$^{%d}$' % e for e in range(-4, 4)])
    ax.yaxis.set_minor_locator(plt.NullLocator())
    ax.tick_params(which='major', direction='in', top=True, right=True, length=5.5, width=0.9, labelsize=7.2, pad=3, color='#222222', labelcolor='#222222')
    ax.tick_params(which='minor', direction='in', top=True, length=2.4, width=0.7, color='#222222')
    for s in ax.spines.values():
        s.set_linewidth(1.0)
        s.set_color('#222222')
        s.set_zorder(7)
    ax.set_xlabel('R$_{ice}$ ($\\mu$m)', fontsize=7.2, labelpad=1 if ppmv_set == 'A' else 7.5, color='#222222')
    ax.set_ylabel('N$_{ice}$ (cm$^{-3}$)', fontsize=7.2, color='#222222')
    ax.yaxis.set_label_coords(-(25 if ppmv_set == 'A' else 34) / 459, 0.5)

    fig.text(tx / W, 1 - ty / H, title, family='Liberation Serif', fontsize=35.7, ha='center', va='center', color='black')


fig = plt.figure(figsize=(W / 100, H / 100), dpi=100, facecolor='white')
for panel in PANELS:
    draw_panel(fig, panel)
for name, x, y in HEADINGS:
    fig.text(x / W, 1 - y / H, name, family='Liberation Serif', fontweight='bold', fontsize=51.8, ha='center', va='center', color='black')

fig.savefig('out.png', dpi=100)
